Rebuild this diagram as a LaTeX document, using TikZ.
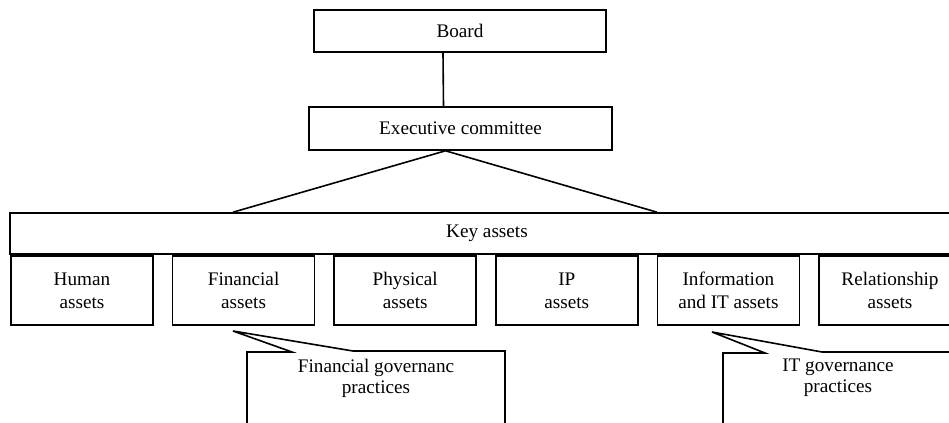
\documentclass[tikz,border=0pt]{standalone}
\usepackage{fontspec}
\setmainfont{Liberation Serif}
\usetikzlibrary{positioning,calc}

\tikzset{
  orgbox/.style={draw, rectangle, inner sep=0pt, align=center, font=\fontsize{9.6pt}{11.5pt}\selectfont},
  assetbox/.style={orgbox, minimum width=71pt, minimum height=34.5pt},
  govtext/.style={align=center, inner sep=0pt, font=\fontsize{9.6pt}{10.5pt}\selectfont}
}

\begin{document}
\begin{tikzpicture}[x=0.5pt, y=-0.5pt, line width=0.8pt]
  \useasboundingbox (0,0) rectangle (949,423);
  \clip (0,0) rectangle (949,423);

  \node[orgbox, minimum width=146pt, minimum height=21pt] (board) at (460,31) {Board};
  \node[orgbox, minimum width=151.5pt, minimum height=21.5pt] (exec) at (460.5,128.5) {Executive committee};
  \node[orgbox, minimum width=477pt, minimum height=20.5pt] (key) at (487,233.5) {Key assets};

  \foreach \name/\txt [count=\i from 0] in {human/{Human\\assets}, financial/{Financial\\assets},
      physical/{Physical\\assets}, ip/{IP\\assets}, info/{Information\\and IT assets}, relation/{Relationship\\assets}}
    \node[assetbox] (\name) at ({82+161.6*\i},290.5) {\txt};

  % Connectors
  \draw ([xshift=-8.5pt]board.south) -- ([xshift=-8.5pt]exec.north);
  \coordinate (apex) at ([xshift=-7.5pt]exec.south);
  \coordinate (keyl) at (key.north -| 233,0);
  \coordinate (keyr) at (key.north -| 657,0);
  \draw (apex) -- (keyl);
  \draw (apex) -- (keyr);

  % Callouts
  \node[govtext] (fingov) at (376,378.5) {Financial governanc\\practices};
  \draw (233,331) -- (292,352) -- (247,352) -- (247,440) -- (505,440) -- (505,351) -- (353,351) -- cycle;

  \node[govtext] (itgov) at (838,378) {IT governance\\practices};
  \draw (712,332) -- (765,353) -- (723,353) -- (723,440) -- (981,440) -- (981,352) -- (822,352) -- cycle;
\end{tikzpicture}
\end{document}
